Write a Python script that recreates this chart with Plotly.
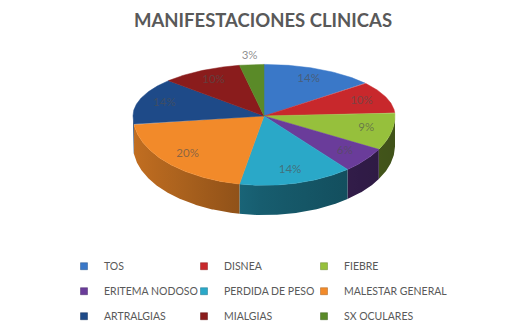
import math
import plotly.graph_objects as go

# ---------------- data ----------------
categories = ["TOS", "DISNEA", "FIEBRE", "ERITEMA NODOSO", "PERDIDA DE PESO",
              "MALESTAR GENERAL", "ARTRALGIAS", "MIALGIAS", "SX OCULARES"]
values = [14, 10, 9, 6, 14, 20, 14, 10, 3]
colors = ["#3a78c8", "#c8282c", "#96c03c", "#6a3c9a", "#2aa8c8",
          "#f28a2a", "#1e4a88", "#8a1c1c", "#5a8a28"]
title_text = "MANIFESTACIONES CLINICAS"

# ---------------- geometry (pixel units on hidden axes) ----------------
W, H = 526, 331
CX, CY = 264, 117
RX, RY_TOP, RY_BOT = 131, 52, 70
DEPTH = 30


def pt(theta, r=1.0):
    t = math.radians(theta)
    s = math.sin(t)
    ry = RY_TOP if s > 0 else RY_BOT
    return CX + r * RX * math.cos(t), CY - r * ry * s


def hex_rgb(h):
    h = h.lstrip("#")
    return tuple(int(h[i:i + 2], 16) for i in (0, 2, 4))


def shade(h, f):
    r, g, b = hex_rgb(h)
    return "rgb(%d,%d,%d)" % (min(255, r * f), min(255, g * f), min(255, b * f))


def side_factor(x):
    c = max(-1.0, min(1.0, (x - CX) / RX))
    return 0.55 - 0.25 * c if c < 0 else 0.55 - 0.12 * c


def angle_list(a0, a1, step=0.5):
    pts = []
    n = max(2, int(math.ceil((a0 - a1) / step)) + 1)
    for k in range(n):
        pts.append(a0 + (a1 - a0) * k / (n - 1))
    m = math.floor(a0 / 180) * 180
    while m > a1:
        if m < a0:
            pts.append(m)
        m -= 180
    return sorted(set(pts), reverse=True)


total = sum(values)
bounds = []
acc = 0
for v in values:
    a0 = 90 - 360 * acc / total
    acc += v
    a1 = 90 - 360 * acc / total
    bounds.append((a0, a1))

fig = go.Figure()

# ---- side faces (front half) with horizontal gradient ----
for (a0, a1), c in zip(bounds, colors):
    angs = [a for a in angle_list(a0, a1) if math.sin(math.radians(a)) <= 1e-9]
    if len(angs) < 2:
        continue
    top = [pt(a) for a in angs]
    xs = [p[0] for p in top] + [p[0] for p in reversed(top)] + [top[0][0]]
    ys = [p[1] for p in top] + [p[1] + DEPTH for p in reversed(top)] + [top[0][1]]
    xmin, xmax = min(xs), max(xs)
    stops = []
    for k in range(6):
        fr = k / 5
        stops.append([fr, shade(c, side_factor(xmin + fr * (xmax - xmin)))])
    fig.add_trace(go.Scatter(x=xs, y=ys, mode="lines", fill="toself",
                             fillgradient=dict(type="horizontal", colorscale=stops,
                                               start=xmin, stop=xmax),
                             line=dict(width=0),
                             hoverinfo="skip", showlegend=False))

# ---- top faces ----
for (a0, a1), c, name in zip(bounds, colors, categories):
    arc = [pt(a) for a in angle_list(a0, a1)]
    xs = [CX] + [p[0] for p in arc] + [CX]
    ys = [CY] + [p[1] for p in arc] + [CY]
    fig.add_trace(go.Scatter(x=xs, y=ys, mode="lines", fill="toself",
                             fillcolor=c, line=dict(width=0.5, color=c),
                             hoverinfo="skip", showlegend=False, name=name))

# ---- percentage labels ----
lx, ly, lt = [], [], []
for (a0, a1), v in zip(bounds, values):
    mid = (a0 + a1) / 2
    pct = round(100 * v / total)
    r = 1.17 if pct < 5 else 0.8
    x, y = pt(mid, r)
    lx.append(x)
    ly.append(y)
    lt.append(f"{pct}%")
fig.add_trace(go.Scatter(x=lx, y=ly, mode="text", text=lt,
                         textfont=dict(family="Lato", size=11.5, color="rgba(80,80,80,0.65)"),
                         hoverinfo="skip", showlegend=False))

# ---- legend entries: three column legends ----
legend_ids = ["legend", "legend2", "legend3"]
for i, (name, c) in enumerate(zip(categories, colors)):
    fig.add_trace(go.Scatter(x=[None], y=[None], mode="markers", name=name,
                             marker=dict(symbol="square", size=7, color=c,
                                         line=dict(width=0.5, color=shade(c, 0.7))),
                             legend=legend_ids[i % 3], legendgroup=f"g{i}",
                             showlegend=True))

legend_cols_px = [64, 184, 304]
leg_top_px = 254
leg_common = dict(orientation="v", xanchor="left", yanchor="top",
                  y=1 - leg_top_px / H, tracegroupgap=6,
                  bgcolor="rgba(0,0,0,0)", traceorder="grouped",
                  font=dict(family="Lato", size=10.5, color="#595959"))

fig.update_layout(
    width=W, height=H,
    margin=dict(l=0, r=0, t=0, b=0),
    paper_bgcolor="white", plot_bgcolor="white",
    xaxis=dict(range=[0, W], visible=False, fixedrange=True),
    yaxis=dict(range=[H, 0], visible=False, fixedrange=True),
    title=dict(text=title_text, x=0.5, xanchor="center", y=1 - 21 / H,
               yanchor="middle", yref="container",
               font=dict(family="Lato", size=18.5, color="#595959", weight="bold")),
    legend=dict(x=legend_cols_px[0] / W, **leg_common),
    legend2=dict(x=legend_cols_px[1] / W, **leg_common),
    legend3=dict(x=legend_cols_px[2] / W, **leg_common),
    showlegend=True,
)

fig.write_html("out.html")
